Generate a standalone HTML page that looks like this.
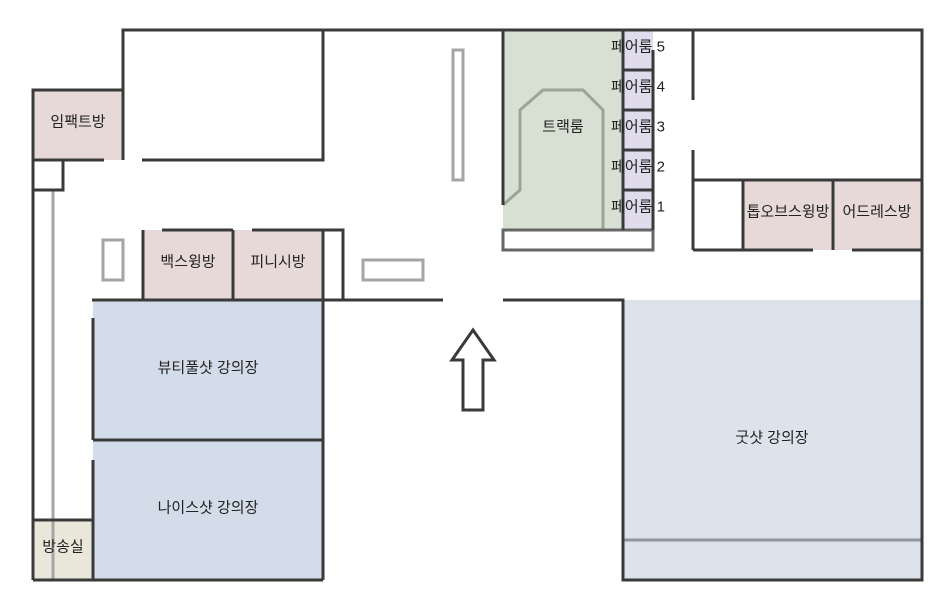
<!DOCTYPE html>
<html><head><meta charset="utf-8"><style>
html,body{margin:0;padding:0;background:#fff;}
svg text{font-family:"Liberation Sans","Noto Sans CJK KR",sans-serif;font-size:15px;fill:#222;}
</style></head><body>
<svg width="951" height="601" viewBox="0 0 951 601" xmlns="http://www.w3.org/2000/svg">
<rect x="33" y="90" width="90" height="70" fill="#e8d9d9"/>
<rect x="143" y="230" width="180" height="70" fill="#e8d9d9"/>
<rect x="93" y="300" width="230" height="280" fill="#d3dce9"/>
<rect x="33" y="520" width="60" height="60" fill="#e9e7d9"/>
<rect x="503" y="30" width="120" height="200" fill="#d8e0d3"/>
<rect x="623" y="30" width="30" height="200" fill="#e0dced"/>
<rect x="743" y="180" width="179" height="70" fill="#e8d9d9"/>
<rect x="623" y="300" width="299" height="280" fill="#dce3ea"/>
<g fill="none" stroke="#a5a5a5" stroke-width="3">
<rect x="453" y="50" width="10" height="130"/>
<rect x="103" y="240" width="20" height="40"/>
<rect x="363" y="260" width="60" height="20"/>
<line x1="53" y1="190" x2="53" y2="580"/>
<polyline points="503,205 520,190 520,110 543,90 583,90 603,110 603,230" stroke="#9aa596"/>
<line x1="623" y1="540" x2="922" y2="540" stroke="#8f969d"/>
</g>
<rect x="503" y="230" width="150" height="20" fill="#fff" stroke="#666" stroke-width="3"/>
<g fill="none" stroke="#3a3a3a" stroke-width="3">
<polyline points="123,160 123,30 922,30 922,580 623,580 623,300 503,300"/>
<polyline points="33,160 33,90 123,90"/>
<line x1="33" y1="160" x2="104" y2="160"/>
<polyline points="142,160 323,160 323,30"/>
<rect x="33" y="160" width="30" height="30"/>
<line x1="33" y1="190" x2="33" y2="580"/>
<line x1="143" y1="230" x2="143" y2="300"/>
<line x1="162" y1="230" x2="233" y2="230"/>
<line x1="233" y1="230" x2="233" y2="300"/>
<polyline points="252,230 343,230 343,300"/>
<line x1="323" y1="230" x2="323" y2="580"/>
<line x1="92" y1="300" x2="443" y2="300"/>
<line x1="93" y1="318" x2="93" y2="440"/>
<line x1="93" y1="460" x2="93" y2="580"/>
<line x1="93" y1="440" x2="323" y2="440"/>
<polyline points="33,520 93,520"/>
<line x1="33" y1="580" x2="323" y2="580"/>
<line x1="503" y1="30" x2="503" y2="205"/>
<line x1="623" y1="30" x2="623" y2="230"/>
<polyline points="623,70 653,70 653,110 623,110"/>
<polyline points="653,50 653,70"/>
<polyline points="623,150 653,150 653,190 623,190"/>
<polyline points="653,110 653,150"/>
<polyline points="623,190 653,190 653,230"/>
<line x1="693" y1="30" x2="693" y2="100"/>
<line x1="693" y1="150" x2="693" y2="250"/>
<line x1="693" y1="180" x2="922" y2="180"/>
<line x1="693" y1="250" x2="743" y2="250"/>
<line x1="743" y1="180" x2="743" y2="250"/>
<line x1="743" y1="250" x2="813" y2="250"/>
<line x1="833" y1="180" x2="833" y2="250"/>
<line x1="852" y1="250" x2="922" y2="250"/>
<polygon points="473,330 494,360 483,360 483,410 463,410 463,360 452,360" fill="#fff"/>
</g>
<g text-anchor="middle" dominant-baseline="central">
<text x="78" y="122">임팩트방</text>
<text x="188" y="262">백스윙방</text>
<text x="278" y="262">피니시방</text>
<text x="208" y="368">뷰티풀샷 강의장</text>
<text x="208" y="508">나이스샷 강의장</text>
<text x="63" y="547">방송실</text>
<text x="563" y="127">트랙룸</text>
<text x="638" y="47">페어룸 5</text>
<text x="638" y="87">페어룸 4</text>
<text x="638" y="127">페어룸 3</text>
<text x="638" y="167">페어룸 2</text>
<text x="638" y="207">페어룸 1</text>
<text x="788" y="212">톱오브스윙방</text>
<text x="877" y="212">어드레스방</text>
<text x="772" y="438">굿샷 강의장</text>
</g>
</svg>
</body></html>
